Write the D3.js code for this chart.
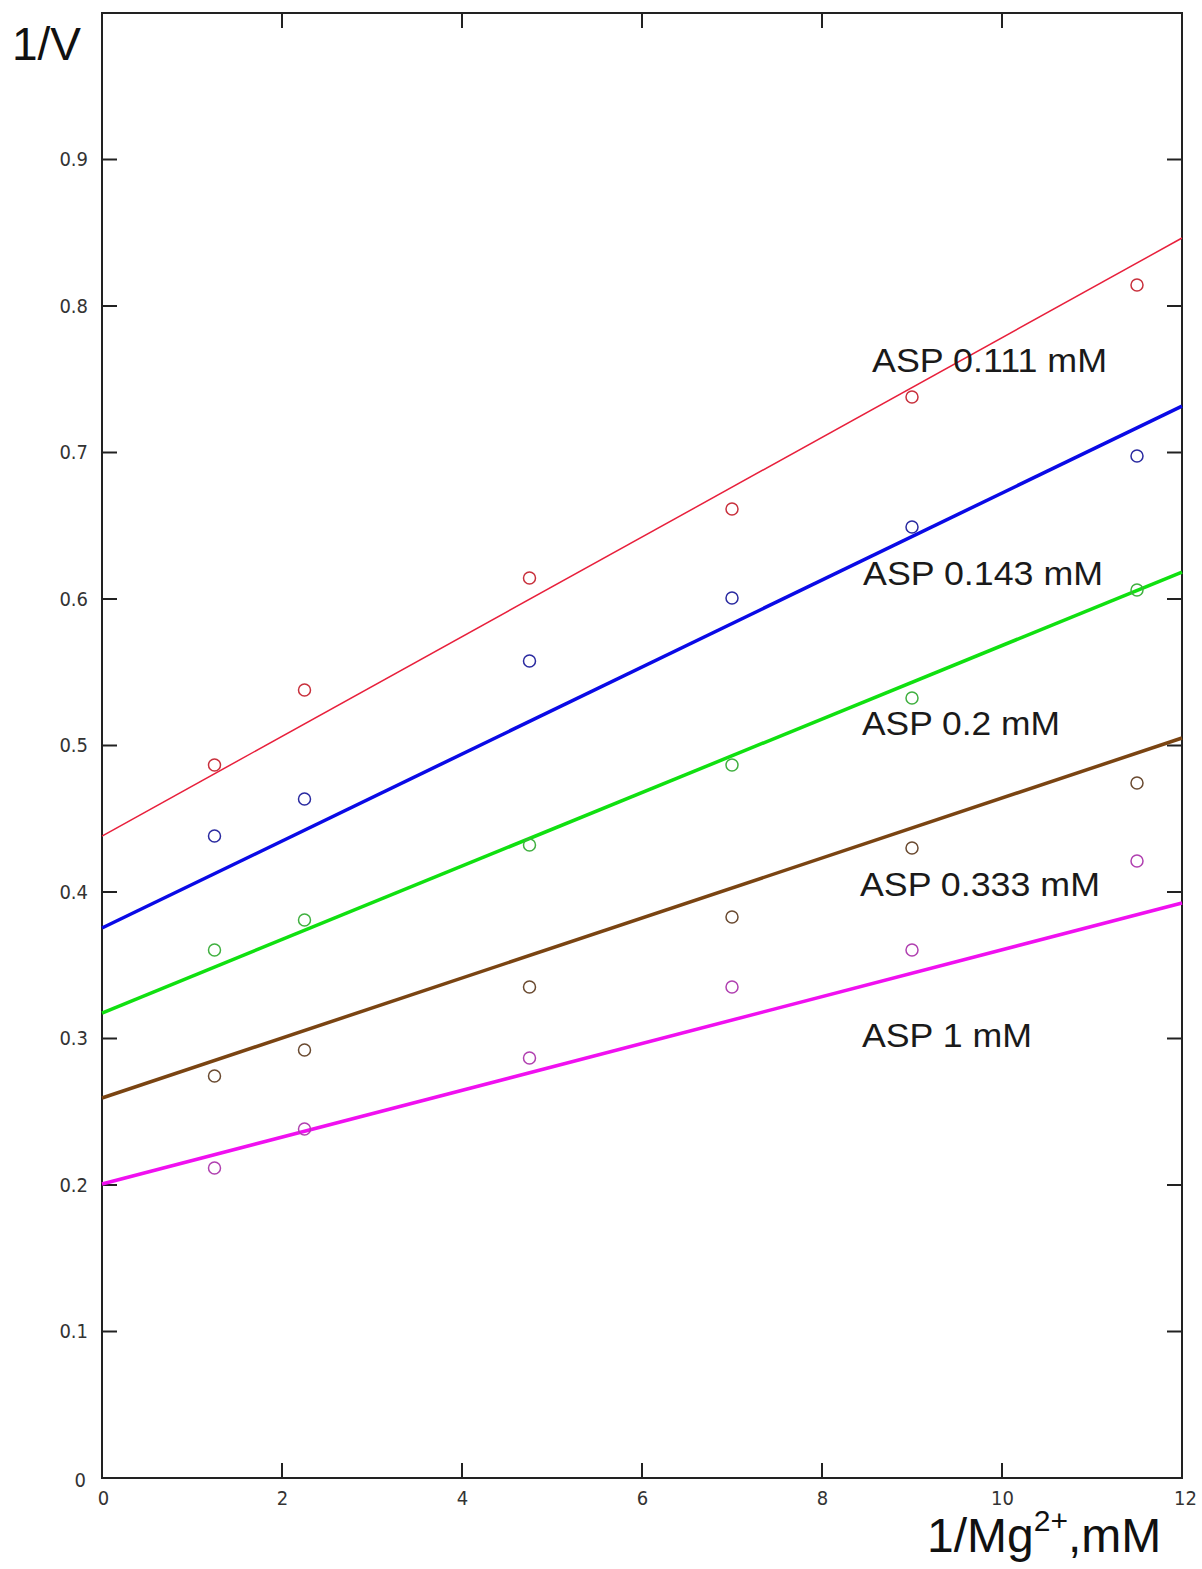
<!DOCTYPE html>
<html><head><meta charset="utf-8">
<script src="https://cdn.jsdelivr.net/npm/d3@7"></script>
<style>body{margin:0;background:#fff}svg{display:block}</style>
</head><body><svg id="c" width="1202" height="1569"></svg>
<script>
// ---- data ----
const xValues = [1.25, 2.25, 4.75, 7, 9, 11.5];
const seriesNames = ["ASP 0.111 mM", "ASP 0.143 mM", "ASP 0.2 mM", "ASP 0.333 mM", "ASP 1 mM"];
const asp0111 = [0.4867, 0.5379, 0.6143, 0.6614, 0.7379, 0.8143];
const asp0143 = [0.4382, 0.4635, 0.5577, 0.6007, 0.6491, 0.6976];
const asp02   = [0.3604, 0.3809, 0.4321, 0.4867, 0.5324, 0.6061];
const asp0333 = [0.2744, 0.2922, 0.3352, 0.3829, 0.4300, 0.4744];
const asp1    = [0.2116, 0.2382, 0.2867, 0.3352, 0.3604, 0.4212];
const fitAt0  = [0.4382, 0.3754, 0.3174, 0.2594, 0.2007];
const fitAt12 = [0.8464, 0.7317, 0.6184, 0.5051, 0.3925];
const xTickValues = [0, 2, 4, 6, 8, 10, 12];
const yTickValues = [0, 0.1, 0.2, 0.3, 0.4, 0.5, 0.6, 0.7, 0.8, 0.9];

// ---- layout / style ----
const lineColors  = ["#e8203c", "#0a0ae6", "#10e010", "#7a4412", "#f010f0"];
const dotColors   = ["#c8303c", "#2a2aa0", "#40b040", "#6a4a30", "#b040b0"];
const lineWidths  = [1.5, 3.5, 3.5, 3.5, 3.5];
const labelAnchor = [[8.556, 0.7549], [8.456, 0.6096], [8.444, 0.5072], [8.422, 0.3973], [8.444, 0.2942]];
const labelWidths = [235, 240, 198, 240, 170];

const ys = [asp0111, asp0143, asp02, asp0333, asp1];
const L = 102, R = 1182, T = 13, B = 1478;
const x = d3.scaleLinear().domain([0, 12]).range([L, R]);
const y = d3.scaleLinear().domain([0, 1]).range([B, T]);
const svg = d3.select("#c");
const tickFont = "'Liberation Sans Narrow','DejaVu Sans Condensed',Arial,sans-serif";

// frame
svg.append("rect").attr("x", L).attr("y", T).attr("width", R - L).attr("height", B - T)
  .attr("fill", "none").attr("stroke", "#222").attr("stroke-width", 2);

// axes with inward ticks on all sides
const inner = xTickValues.filter(d => d > 0 && d < 12);
const innerY = yTickValues.filter(d => d > 0);
const gB = svg.append("g").attr("transform", `translate(0,${B})`)
  .call(d3.axisBottom(x).tickValues(xTickValues).tickSize(0).tickPadding(13).tickFormat(d3.format("d")));
gB.select(".domain").remove();
gB.selectAll("text").attr("font-family", tickFont).attr("font-size", 20).attr("fill", "#333");
gB.selectAll(".tick").filter(d => d === 0).select("text").attr("dx", 1);
gB.selectAll(".tick").filter(d => d === 12).select("text").attr("dx", 3);

const gL = svg.append("g").attr("transform", `translate(${L},0)`)
  .call(d3.axisLeft(y).tickValues(yTickValues).tickSize(0).tickPadding(14).tickFormat(d => d === 0 ? "0" : d3.format(".1f")(d)));
gL.select(".domain").remove();
gL.selectAll("text").attr("font-family", tickFont).attr("font-size", 20).attr("fill", "#333");
gL.selectAll(".tick").filter(d => d === 0).select("text").attr("dx", -2).attr("dy", "0.4em");

const tk = svg.append("g").attr("stroke", "#222").attr("stroke-width", 2);
inner.forEach(v => {
  tk.append("line").attr("x1", x(v)).attr("x2", x(v)).attr("y1", B).attr("y2", B - 15);
  tk.append("line").attr("x1", x(v)).attr("x2", x(v)).attr("y1", T).attr("y2", T + 15);
});
innerY.forEach(v => {
  tk.append("line").attr("x1", L).attr("x2", L + 15).attr("y1", y(v)).attr("y2", y(v));
  tk.append("line").attr("x1", R).attr("x2", R - 15).attr("y1", y(v)).attr("y2", y(v));
});

// fit lines
const line = d3.line().x(d => x(d[0])).y(d => y(d[1]));
seriesNames.forEach((name, i) => {
  svg.append("path").datum([[0, fitAt0[i]], [12, fitAt12[i]]])
    .attr("d", line).attr("fill", "none")
    .attr("stroke", lineColors[i]).attr("stroke-width", lineWidths[i]);
});

// points
seriesNames.forEach((name, i) => {
  svg.append("g").selectAll("circle").data(xValues.map((xv, j) => [xv, ys[i][j]]))
    .join("circle").attr("cx", d => x(d[0])).attr("cy", d => y(d[1])).attr("r", 6)
    .attr("fill", "none").attr("stroke", dotColors[i]).attr("stroke-width", 1.5);
});

// series labels
seriesNames.forEach((name, i) => {
  svg.append("text").attr("x", x(labelAnchor[i][0])).attr("y", y(labelAnchor[i][1]))
    .attr("font-family", "Arial, 'Liberation Sans', sans-serif").attr("font-size", 33)
    .attr("fill", "#1a1a1a").attr("textLength", labelWidths[i]).attr("lengthAdjust", "spacingAndGlyphs")
    .text(name);
});

// axis titles
svg.append("text").attr("x", 12).attr("y", 60)
  .attr("font-family", "Arial, 'Liberation Sans', sans-serif").attr("font-size", 46).attr("fill", "#111")
  .text("1/V");
const xt = svg.append("text").attr("x", 927).attr("y", 1552)
  .attr("font-family", "Arial, 'Liberation Sans', sans-serif").attr("font-size", 48).attr("fill", "#111");
xt.append("tspan").text("1/Mg");
xt.append("tspan").attr("font-size", 30).attr("dy", -21).text("2+");
xt.append("tspan").attr("dy", 21).text(",mM");
</script></body></html>
